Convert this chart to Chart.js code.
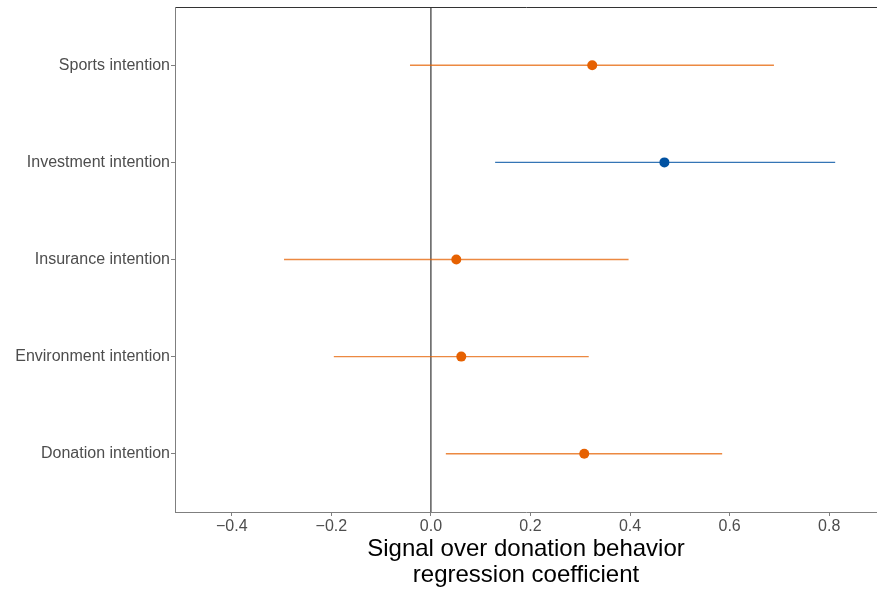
<!DOCTYPE html>
<html>
<head>
<meta charset="utf-8">
<script src="https://cdn.jsdelivr.net/npm/chart.js@4/dist/chart.umd.min.js"></script>
<style>
  body { margin: 0; background: #fff; }
  #contenedor { width: 877px; height: 590px; }
</style>
</head>
<body>
<div id="contenedor"><canvas id="grafico" width="877" height="590"></canvas></div>
<script>
// --- DATOS (posición 1 = abajo, 5 = arriba) ---
const categorias = ["Donation intention", "Environment intention", "Insurance intention", "Investment intention", "Sports intention"];
const coeficientes = [0.308, 0.061, 0.051, 0.469, 0.324];
const limiteInferior = [0.030, -0.195, -0.295, 0.129, -0.042];
const limiteSuperior = [0.585, 0.317, 0.397, 0.812, 0.689];
const esSenal = [false, false, false, true, false]; // la de inversión va en azul
const ticksX = [-0.4, -0.2, 0.0, 0.2, 0.4, 0.6, 0.8];

// --- COLORES ---
const naranja = '#e66101', naranjaLinea = 'rgba(230, 97, 1, 0.75)';
const azul = '#0152a2', azulLinea = 'rgba(1, 82, 162, 0.8)';
const fuente = '"Liberation Sans", Arial, sans-serif';

// un dataset por intervalo de confianza
const intervalos = categorias.map((cat, i) => ({
    type: 'line',
    label: cat,
    data: [{ x: limiteInferior[i], y: i + 1 }, { x: limiteSuperior[i], y: i + 1 }],
    borderColor: esSenal[i] ? azulLinea : naranjaLinea,
    borderWidth: 1.3,
    pointRadius: 0,
    order: 1
}));

const puntos = {
    type: 'scatter',
    label: 'coef',
    data: categorias.map((cat, i) => ({ x: coeficientes[i], y: i + 1 })),
    backgroundColor: esSenal.map(s => s ? azul : naranja),
    borderWidth: 0,
    pointRadius: 5,
    order: 0
};

// línea vertical en cero
const lineaCero = {
    type: 'line',
    label: 'cero',
    data: [{ x: 0, y: 0.4 }, { x: 0, y: 5.6 }],
    borderColor: '#333333',
    borderWidth: 1.2,
    pointRadius: 0,
    order: 2
};

const ctx = document.getElementById('grafico').getContext('2d');
const miGrafico = new Chart(ctx, {
    type: 'scatter',
    data: { datasets: [puntos, ...intervalos, lineaCero] },
    options: {
        responsive: false,
        animation: false,
        layout: { autoPadding: false, padding: { top: 7, right: 0, bottom: 0, left: 0 } },
        plugins: { legend: { display: false }, tooltip: { enabled: false } },
        scales: {
            x: {
                type: 'linear',
                position: 'bottom',
                min: -0.514,
                max: 0.896,
                afterBuildTicks: (eje) => { eje.ticks = ticksX.map(v => ({ value: v })); },
                afterFit: (eje) => { eje.height = 78; eje.paddingLeft = 0; eje.paddingRight = 0; },
                ticks: {
                    color: '#4d4d4d',
                    font: { family: fuente, size: 16 },
                    padding: 1,
                    maxRotation: 0,
                    callback: (v) => (v < 0 ? '\u2212' : '') + Math.abs(v).toFixed(1)
                },
                grid: { drawOnChartArea: false, tickLength: 4, tickColor: '#7f7f7f', tickWidth: 1 },
                border: { display: true, color: '#7f7f7f', width: 1 },
                title: {
                    display: true,
                    text: ['Signal over donation behavior', 'regression coefficient'],
                    color: '#000000',
                    font: { family: fuente, size: 24, lineHeight: '26px' },
                    padding: { top: 0, bottom: 2 }
                }
            },
            xArriba: {
                type: 'linear',
                position: 'top',
                min: -0.514,
                max: 0.896,
                ticks: { display: false },
                grid: { display: false },
                border: { display: true, color: '#333333', width: 1 },
                afterFit: (eje) => { eje.height = 0; }
            },
            y: {
                type: 'linear',
                min: 0.4,
                max: 5.6,
                afterBuildTicks: (eje) => { eje.ticks = categorias.map((c, i) => ({ value: i + 1 })); },
                // ancho fijo y sin el relleno de media etiqueta arriba/abajo
                afterFit: (eje) => { eje.width = 175; eje.paddingTop = 0; eje.paddingBottom = 0; },
                ticks: {
                    color: '#4d4d4d',
                    font: { family: fuente, size: 16 },
                    padding: 1,
                    callback: (v) => categorias[Math.round(v) - 1]
                },
                grid: { drawOnChartArea: false, tickLength: 4, tickColor: '#7f7f7f', tickWidth: 1 },
                border: { display: true, color: '#7f7f7f', width: 1 }
            }
        }
    }
});
</script>
</body>
</html>
